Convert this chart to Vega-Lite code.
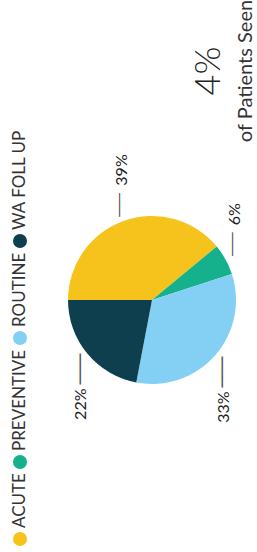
{
  "$schema": "https://vega.github.io/schema/vega-lite/v6.json",
  "width": 210,
  "height": 458,
  "autosize": {"type": "none"},
  "padding": {"left": 47, "top": 71, "right": 0, "bottom": 23},
  "background": "white",
  "title": {
    "text": "4%",
    "subtitle": "of Patients Seen",
    "orient": "left",
    "anchor": "end",
    "frame": "group",
    "align": "center",
    "baseline": "alphabetic",
    "angle": 270,
    "offset": -272,
    "font": "Lato",
    "fontSize": 36,
    "fontWeight": 300,
    "color": "#222222",
    "subtitleFont": "Lato",
    "subtitleFontSize": 20,
    "subtitleColor": "#333333",
    "subtitlePadding": -4
  },
  "config": {"view": {"stroke": null}},
  "data": {
    "values": [
      {"category": "ACUTE", "share": 0.39},
      {"category": "PREVENTIVE", "share": 0.06},
      {"category": "ROUTINE", "share": 0.33},
      {"category": "WA FOLL UP", "share": 0.22}
    ]
  },
  "encoding": {
    "theta": {"field": "share", "type": "quantitative", "stack": true, "scale": {"range": [-1.5708, 4.7124]}},
    "order": {"field": "category", "type": "nominal", "sort": "ascending"}
  },
  "layer": [
    {
      "mark": {"type": "arc", "outerRadius": 84},
      "encoding": {
        "color": {
          "field": "category",
          "type": "nominal",
          "scale": {
            "domain": ["WA FOLL UP", "ROUTINE", "PREVENTIVE", "ACUTE"],
            "range": ["#0d3f4e", "#84d0f5", "#15b08c", "#f6c31c"]
          },
          "legend": {
            "orient": "none",
            "legendX": -34,
            "legendY": 170,
            "direction": "vertical",
            "title": null,
            "symbolType": "circle",
            "symbolSize": 196,
            "symbolStrokeWidth": 0,
            "labelFont": "Lato",
            "labelFontSize": 17,
            "labelColor": "#333333",
            "rowPadding": 4,
            "padding": 0,
            "encode": {
              "symbols": {"update": {"x": {"value": 7}, "y": {"value": 0}}},
              "labels": {"update": {"x": {"value": 7}, "y": {"value": -11}, "angle": {"value": 270}, "align": {"value": "left"}, "baseline": {"value": "middle"}}}
            }
          }
        }
      }
    },
    {
      "mark": {
        "type": "text",
        "radius": 118,
        "angle": 270,
        "font": "Lato",
        "fontSize": 16,
        "color": "#222222",
        "dx": {"expr": "datum.category == 'ACUTE' ? 19 : datum.category == 'PREVENTIVE' ? 29 : -29"},
        "dy": {"expr": "datum.category == 'ACUTE' ? 10 : datum.category == 'PREVENTIVE' ? -20 : datum.category == 'ROUTINE' ? -17 : 20"}
      },
      "encoding": {"text": {"field": "share", "type": "quantitative", "format": ".0%"}}
    },
    {
      "mark": {
        "type": "text",
        "radius": 118,
        "angle": 270,
        "text": "───",
        "font": "DejaVu Sans Mono",
        "fontSize": {"expr": "datum.category == 'ACUTE' || datum.category == 'PREVENTIVE' ? 13 : 17"},
        "color": "#555555",
        "dx": {"expr": "datum.category == 'ACUTE' ? -16 : datum.category == 'PREVENTIVE' ? -1 : 6"},
        "dy": {"expr": "datum.category == 'ACUTE' ? 8 : datum.category == 'PREVENTIVE' ? -22 : datum.category == 'ROUTINE' ? -18 : 20"}
      },
      "encoding": {}
    }
  ]
}
